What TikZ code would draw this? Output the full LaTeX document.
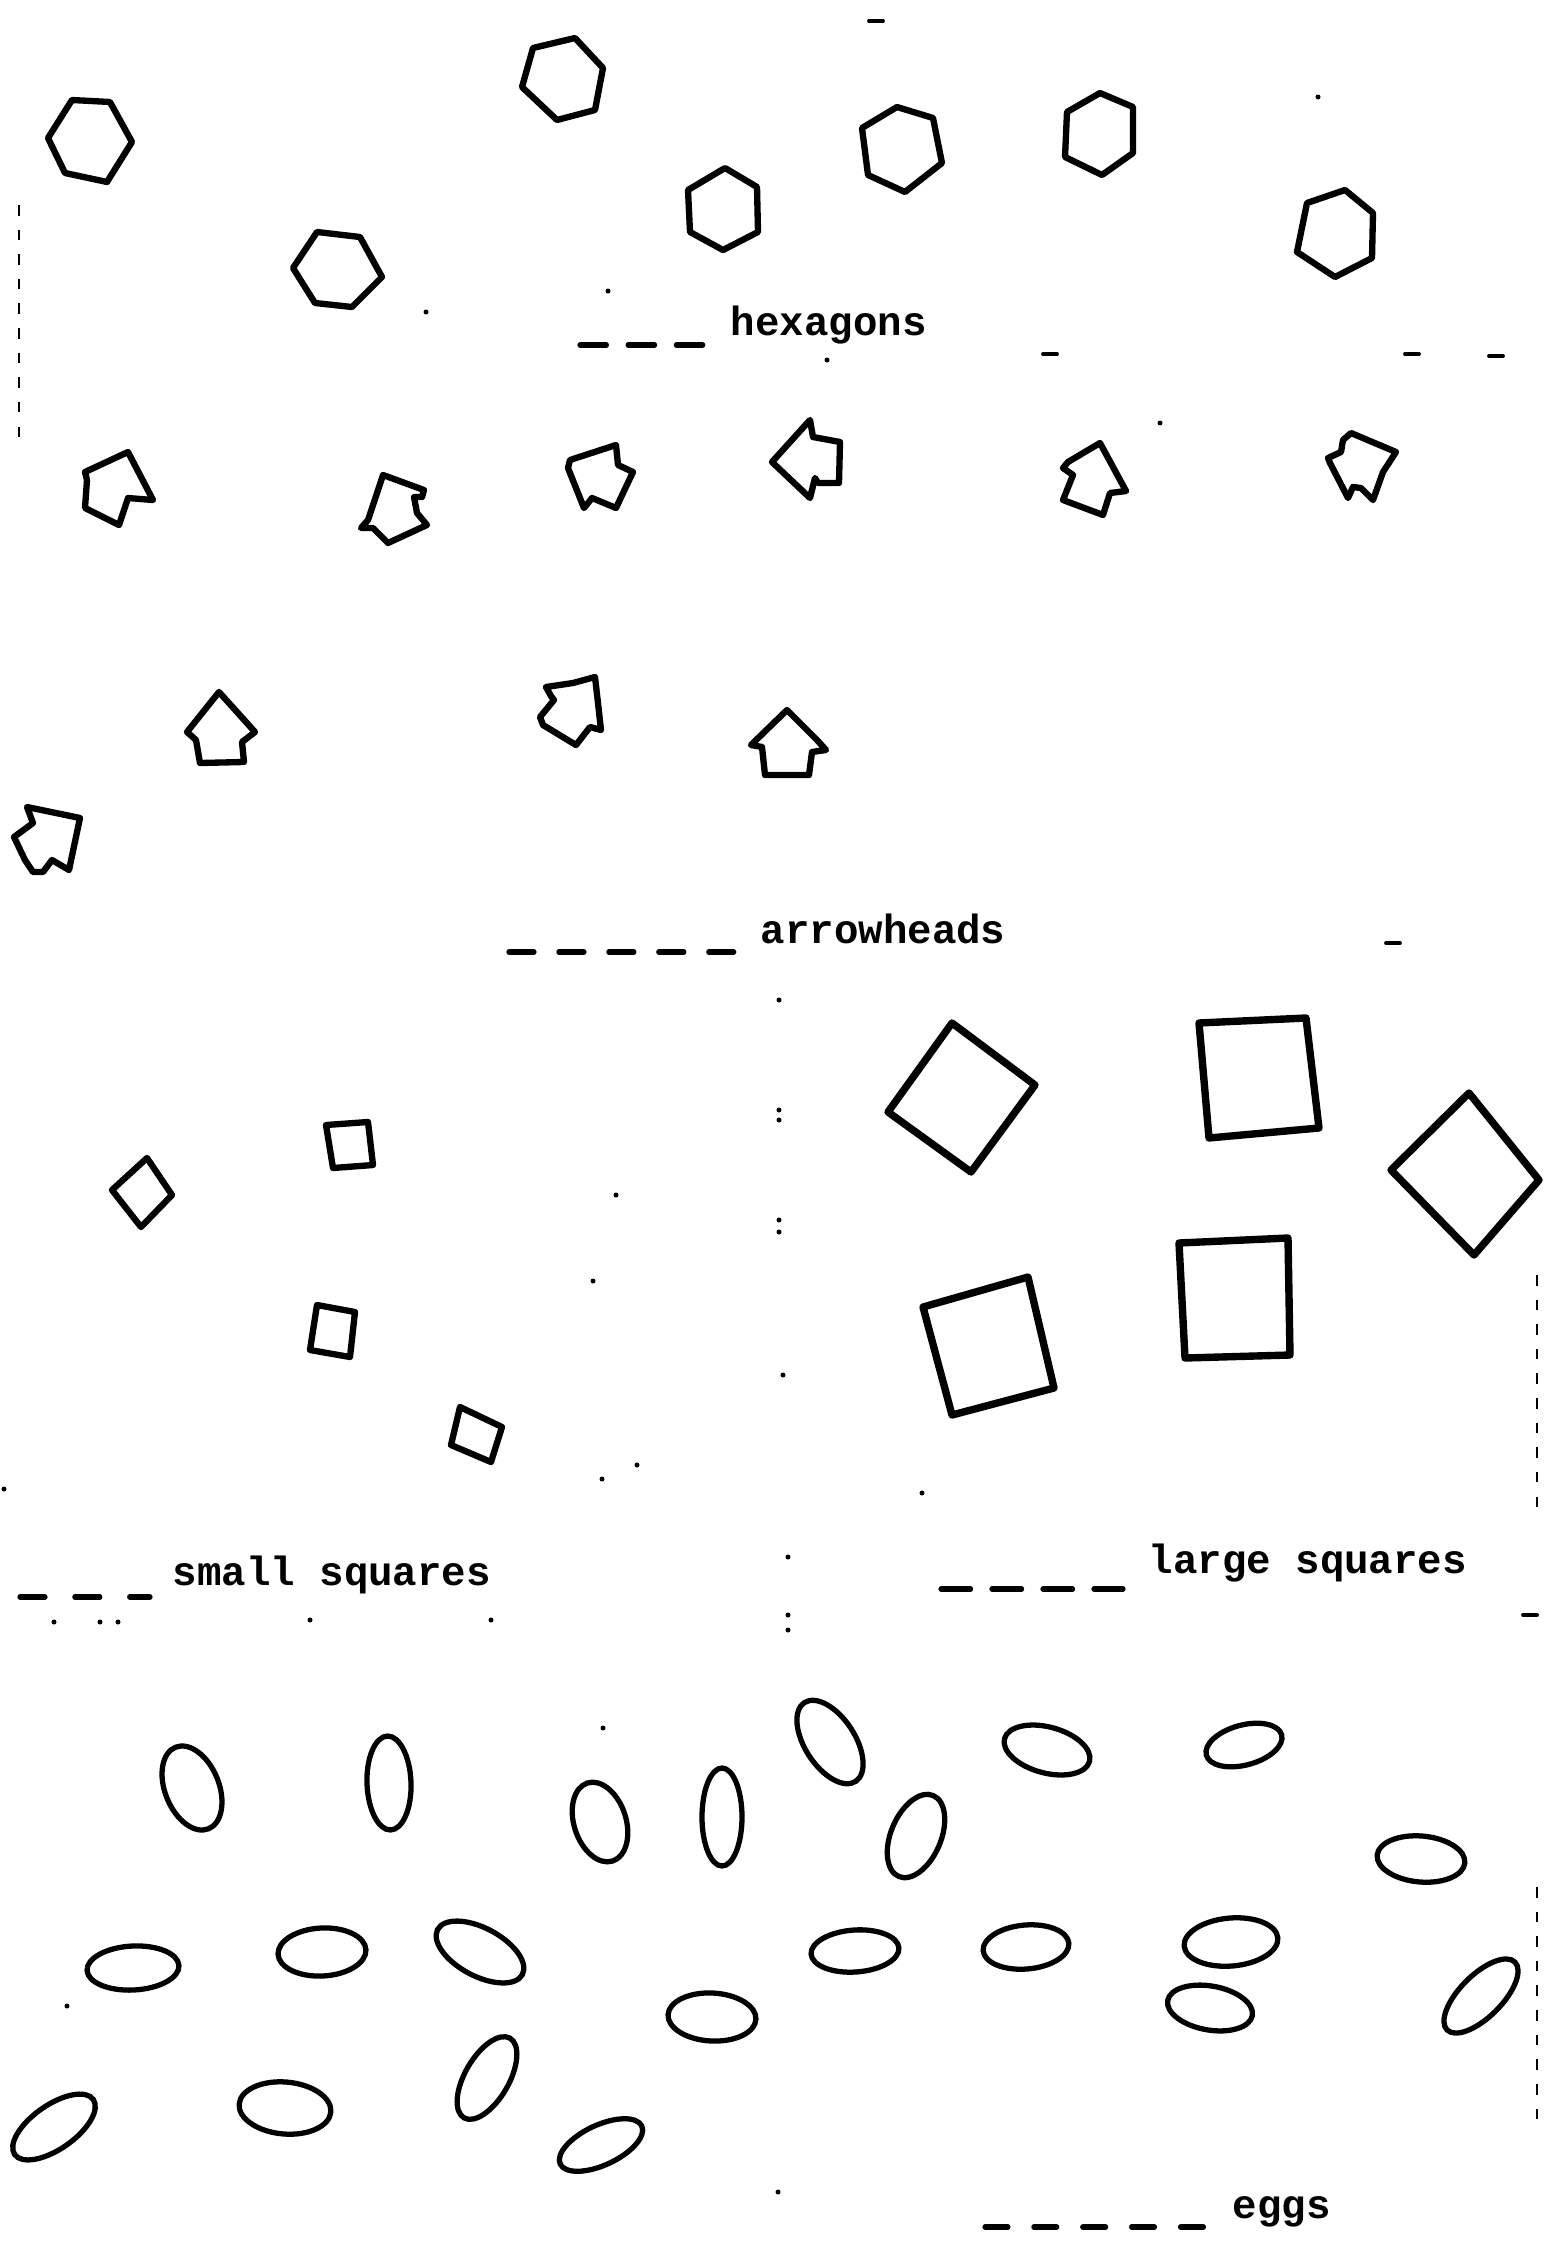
\documentclass[tikz,border=0pt]{standalone}
\usepackage{fontspec}
\setmonofont{Liberation Mono}
\usepackage{tikz}
\usetikzlibrary{calc}
\tikzset{
  shp/.style={draw=black,line width=1.8pt,line join=round,line cap=round},
  bigsq/.style={shp,line width=2.1pt},
  egg/.style={draw=black,line width=1.5pt},
  lbl/.style={font=\fontsize{11.6}{14}\selectfont\ttfamily\bfseries,anchor=base west,inner sep=0pt},
  leader/.style={line width=1.5pt,line cap=round},
  scan/.style={line width=0.7pt,dash pattern=on 3pt off 4pt},
}

\begin{document}
\begin{tikzpicture}[x=0.01cm,y=-0.01cm]
\useasboundingbox (0,0) rectangle (1545,2242);

% ================= hexagons =================
\draw[shp] (48,138) -- (72,100) -- (110,102) -- (132,142) -- (107,182) -- (65,173) -- cycle;
\draw[shp] (293,268) -- (317,232) -- (360,237) -- (382,277) -- (352,307) -- (315,303) -- cycle;
\draw[shp] (533,48) -- (575,38) -- (603,68) -- (595,110) -- (557,120) -- (522,87) -- cycle;
\draw[shp] (725,168) -- (757,187) -- (758,232) -- (723,250) -- (690,232) -- (688,190) -- cycle;
\draw[shp] (897,107) -- (933,118) -- (942,163) -- (905,192) -- (868,175) -- (862,128) -- cycle;
\draw[shp] (1100,93) -- (1133,107) -- (1133,153) -- (1102,175) -- (1065,157) -- (1067,112) -- cycle;
\draw[shp] (1345,190) -- (1373,213) -- (1372,258) -- (1335,277) -- (1297,252) -- (1307,203) -- cycle;

\node[lbl] (lhex) at (730,335) {hexagons};
\coordinate (hexd) at (580,345);
\draw[leader,dash pattern=on 7.5pt off 6.2pt] (hexd) -- ($(lhex.base west)+(-25,10)$);

% ================= arrowheads =================
\draw[shp] (128,452) -- (85,472) -- (87,480) -- (85,508) -- (119,525) -- (128,498) -- (153,500) -- cycle;
\draw[shp] (383,475) -- (424,490) -- (422,497) -- (414,497) -- (417,513) -- (427,525) -- (388,543) -- (373,528) -- (361,528) -- (368,520) -- cycle;
\draw[shp] (616,445) -- (570,460) -- (568,468) -- (584,508) -- (592,498) -- (616,508) -- (633,472) -- (618,465) -- cycle;
\draw[shp] (772,462) -- (810,420) -- (813,437) -- (840,442) -- (839,483) -- (818,483) -- (815,478) -- (810,498) -- cycle;
\draw[shp] (1100,443) -- (1068,462) -- (1063,468) -- (1073,475) -- (1063,500) -- (1103,515) -- (1110,493) -- (1126,491) -- cycle;
\draw[shp] (1351,433) -- (1396,452) -- (1383,472) -- (1373,500) -- (1361,488) -- (1353,487) -- (1348,498) -- (1330,463) -- (1328,458) -- (1341,452) -- (1343,440) -- cycle;
\draw[shp] (219,692) -- (255,732) -- (242,742) -- (244,762) -- (200,763) -- (196,740) -- (187,732) -- cycle;
\draw[shp] (595,677) -- (573,683) -- (546,687) -- (551,696) -- (554,700) -- (540,717) -- (543,725) -- (576,745) -- (590,727) -- (601,730) -- (598,703) -- cycle;
\draw[shp] (787,710) -- (817,740) -- (826,750) -- (812,752) -- (809,775) -- (765,775) -- (762,747) -- (751,745) -- cycle;
\draw[shp] (27,807) -- (80,818) -- (69,870) -- (52,860) -- (43,872) -- (33,872) -- (25,860) -- (14,837) -- (33,823) -- cycle;

\node[lbl] (larr) at (760,943) {arrowheads};
\coordinate (arrd) at (509,952);
\draw[leader,dash pattern=on 7.1pt off 7.1pt] (arrd) -- ($(larr.base west)+(-25,9)$);

% ================= small squares =================
\draw[shp] (147,1158) -- (172,1195) -- (141,1227) -- (112,1190) -- cycle;
\draw[shp] (326,1125) -- (368,1122) -- (373,1165) -- (333,1168) -- cycle;
\draw[shp] (317,1305) -- (355,1312) -- (350,1357) -- (310,1350) -- cycle;
\draw[shp] (460,1407) -- (502,1427) -- (491,1462) -- (451,1445) -- cycle;

\node[lbl] (lsmall) at (172,1585) {small squares};
\coordinate (smalld) at (20,1597);
\draw[leader,dash pattern=on 7.1pt off 8.5pt] (smalld) -- ($(lsmall.base west)+(-22,12)$);

% ================= large squares =================
\draw[bigsq] (952,1023) -- (1035,1085) -- (971,1172) -- (888,1112) -- cycle;
\draw[bigsq] (1199,1023) -- (1306,1018) -- (1319,1128) -- (1209,1138) -- cycle;
\draw[bigsq] (1469,1093) -- (1539,1180) -- (1474,1255) -- (1391,1170) -- cycle;
\draw[bigsq] (923,1307) -- (1028,1277) -- (1054,1388) -- (952,1415) -- cycle;
\draw[bigsq] (1179,1243) -- (1288,1238) -- (1290,1355) -- (1185,1358) -- cycle;

\node[lbl] (llarge) at (1148,1573) {large squares};
\coordinate (larged) at (941,1589);
\draw[leader,dash pattern=on 8.4pt off 6.1pt] (larged) -- ($(llarge.base west)+(-25,16)$);

% ================= eggs =================
\foreach \x/\y/\a/\b/\r in {192/1788/27/44/22, 389/1783/22/47/2, 600/1822/26/41/18,
    722/1817/20/49/0, 830/1742/25/47/33, 916/1836/25/44/-23,
    1047/1750/44/23/-15, 1244/1745/39/20/15, 1421/1859/44/23/-5,
    133/1968/46/22/3, 322/1952/44/24/3, 480/1952/48/24/-28,
    712/2017/44/24/-3, 855/1951/44/21/4, 1026/1947/43/22/5,
    1231/1942/47/24/5, 1210/2008/43/22/-10, 1481/1996/48/21/45,
    54/2127/48/22/35, 285/2108/46/26/-5, 487/2078/46/22/60, 601/2145/45/20/25}{
  \draw[egg, rotate around={\r:(\x,\y)}] (\x,\y) ellipse [x radius=\a, y radius=\b];
}

\node[lbl] (leggs) at (1232,2218) {eggs};
\coordinate (eggd) at (985,2227);
\draw[leader,dash pattern=on 6.5pt off 7.4pt] (eggd) -- ($(leggs.base west)+(-25,9)$);

% ================= scan marks =================
\draw[scan] (19,205) -- (19,447);
\draw[scan] (1537,1275) -- (1537,1512);
\draw[scan] (1537,1887) -- (1537,2127);
\foreach \x/\y in {876/21, 1050/354, 1412/354, 1496/356, 1393/943, 1530/1615}{
  \draw[leader,line width=1.1pt] (\x-7,\y) -- (\x+7,\y);
}
\foreach \x/\y in {1318/97, 1160/423, 608/291, 827/360, 426/312, 779/1000, 779/1110, 779/1120,
    779/1220, 779/1232, 616/1195, 593/1281, 783/1375, 637/1465, 602/1479, 922/1493,
    788/1557, 788/1615, 788/1630, 4/1489, 310/1620, 491/1620, 54/1622, 100/1622,
    118/1622, 603/1728, 67/2006, 778/2192}{
  \fill (\x,\y) circle [radius=2.5];
}
\end{tikzpicture}
\end{document}
